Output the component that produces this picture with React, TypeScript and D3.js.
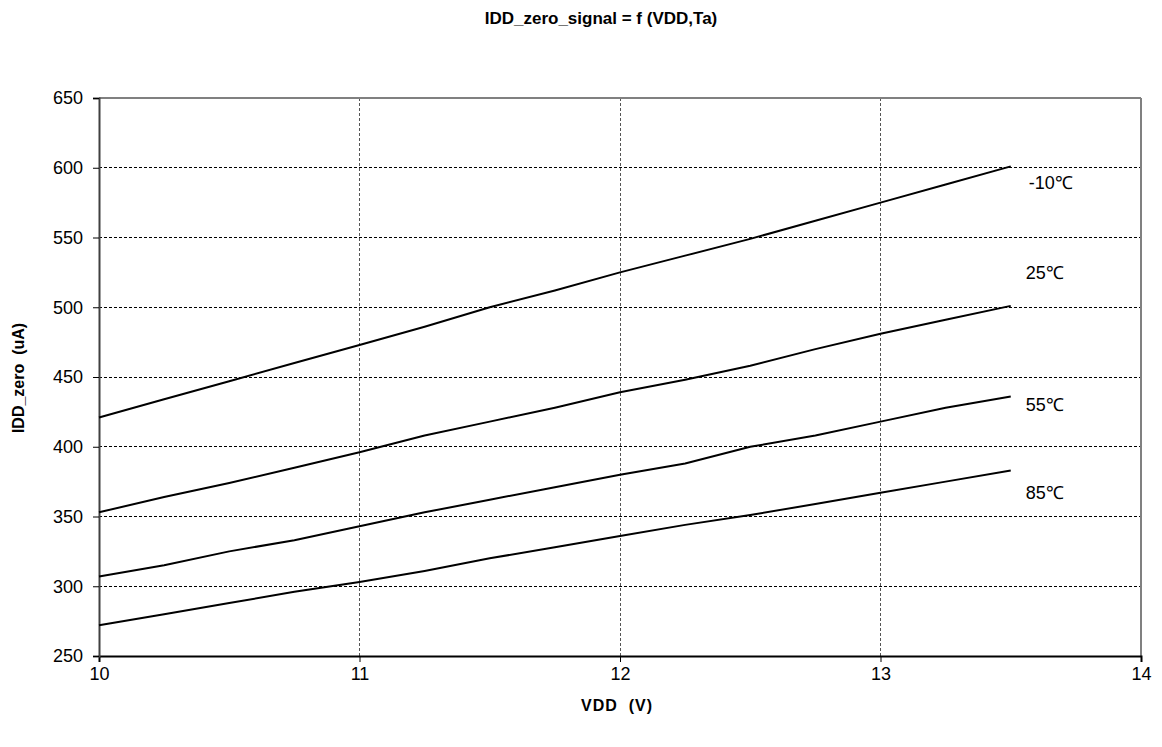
import React, {useEffect, useRef} from 'react';
import * as d3 from 'd3';

const vdd = [10, 10.25, 10.5, 10.75, 11, 11.25, 11.5, 11.75, 12, 12.25, 12.5, 12.75, 13, 13.25, 13.5];

const tempLabels = ['-10℃', '25℃', '55℃', '85℃'];
const idd_m10 = [421, 434, 447, 460, 473, 486, 500, 512, 525, 537, 549, 562, 575, 588, 601];
const idd_25 = [353, 364, 374, 385, 396, 408, 418, 428, 439, 448, 458, 470, 481, 491, 501];
const idd_55 = [307, 315, 325, 333, 343, 353, 362, 371, 380, 388, 400, 408, 418, 428, 436];
const idd_85 = [272, 280, 288, 296, 303, 311, 320, 328, 336, 344, 351, 359, 367, 375, 383];
// where the temperature label sits, in uA
const labelAt = [589, 525, 430, 367];

const xTicks = [10, 11, 12, 13, 14];
const yTicks = [250, 300, 350, 400, 450, 500, 550, 600, 650];

const W = 1162;
const H = 747;
const margin = {top: 98, right: 21, bottom: 91, left: 99};
const FONT = '"Liberation Sans", Arial, sans-serif';

export default function App() {
  const svgRef = useRef<SVGSVGElement | null>(null);

  useEffect(() => {
    if (!svgRef.current) return;
    const svg = d3.select(svgRef.current);
    svg.selectAll('*').remove();

    const innerWidth = W - margin.left - margin.right;
    const innerHeight = H - margin.top - margin.bottom;

    const x = d3.scaleLinear().domain([10, 14]).range([0, innerWidth]);
    const y = d3.scaleLinear().domain([250, 650]).range([innerHeight, 0]);

    const g = svg.append('g').attr('transform', `translate(${margin.left},${margin.top})`);

    // grid
    g.append('g')
      .selectAll('line')
      .data(yTicks.slice(1, -1))
      .enter()
      .append('line')
      .attr('x1', 0)
      .attr('x2', innerWidth)
      .attr('y1', (d) => y(d))
      .attr('y2', (d) => y(d))
      .attr('stroke', '#000')
      .attr('stroke-width', 1)
      .attr('stroke-dasharray', '3,2')
      .attr('shape-rendering', 'crispEdges');
    g.append('g')
      .selectAll('line')
      .data(xTicks.slice(1, -1))
      .enter()
      .append('line')
      .attr('x1', (d) => x(d))
      .attr('x2', (d) => x(d))
      .attr('y1', 0)
      .attr('y2', innerHeight)
      .attr('stroke', '#555')
      .attr('stroke-width', 1)
      .attr('stroke-dasharray', '3,2')
      .attr('shape-rendering', 'crispEdges');

    // plot frame (top & right)
    g.append('line')
      .attr('x1', 0).attr('x2', innerWidth).attr('y1', 0).attr('y2', 0)
      .attr('stroke', '#808080').attr('stroke-width', 2);
    g.append('line')
      .attr('x1', innerWidth).attr('x2', innerWidth).attr('y1', 0).attr('y2', innerHeight)
      .attr('stroke', '#808080').attr('stroke-width', 2);

    // axes
    const xAxis = d3.axisBottom(x).tickValues(xTicks).tickSize(6).tickPadding(5).tickFormat(d3.format('d'));
    const yAxis = d3.axisLeft(y).tickValues(yTicks).tickSize(6).tickPadding(10).tickFormat(d3.format('d'));

    const xAxisNode = g.append('g').attr('transform', `translate(0,${innerHeight})`).call(xAxis);
    const yAxisNode = g.append('g').call(yAxis);

    xAxisNode.select('.domain').attr('stroke', '#000').attr('stroke-width', 2);
    yAxisNode.select('.domain').attr('stroke', '#404040').attr('stroke-width', 2);
    svg.selectAll('.tick line').attr('stroke', '#000');
    svg.selectAll('.tick text')
      .style('font-family', FONT)
      .style('font-size', '18px')
      .style('fill', '#000');

    // series
    const series = [idd_m10, idd_25, idd_55, idd_85];
    const line = d3
      .line<number>()
      .x((_d, i) => x(vdd[i]))
      .y((d) => y(d));

    g.append('g')
      .selectAll('path')
      .data(series)
      .enter()
      .append('path')
      .attr('d', (d) => line(d))
      .attr('fill', 'none')
      .attr('stroke', '#000')
      .attr('stroke-width', 2)
      .attr('stroke-linejoin', 'round');

    g.append('g')
      .selectAll('text')
      .data(tempLabels)
      .enter()
      .append('text')
      .attr('x', (_d, i) => x(13.5) + (i === 0 ? 18 : 15))
      .attr('y', (_d, i) => y(labelAt[i]))
      .attr('dy', '0.35em')
      .style('font-family', FONT)
      .style('font-size', '18px')
      .text((d) => d);

    // titles
    svg.append('text')
      .attr('x', 601)
      .attr('y', 24)
      .attr('text-anchor', 'middle')
      .style('font-family', FONT)
      .style('font-size', '17px')
      .style('font-weight', 'bold')
      .text('IDD_zero_signal = f (VDD,Ta)');

    svg.append('text')
      .attr('x', 617)
      .attr('y', 711)
      .attr('text-anchor', 'middle')
      .attr('xml:space', 'preserve')
      .style('white-space', 'pre')
      .style('font-family', FONT)
      .style('font-size', '16px')
      .style('font-weight', 'bold')
      .style('letter-spacing', '1px')
      .text('VDD  (V)');

    svg.append('text')
      .attr('transform', 'translate(24,378) rotate(-90)')
      .attr('text-anchor', 'middle')
      .style('white-space', 'pre')
      .style('font-family', FONT)
      .style('font-size', '16px')
      .style('font-weight', 'bold')
      .text('IDD_zero  (uA)');
  }, []);

  return (
    <svg
      ref={svgRef}
      width={W}
      height={H}
      style={{position: 'absolute', left: 0, top: 0, background: '#fff'}}
    />
  );
}
